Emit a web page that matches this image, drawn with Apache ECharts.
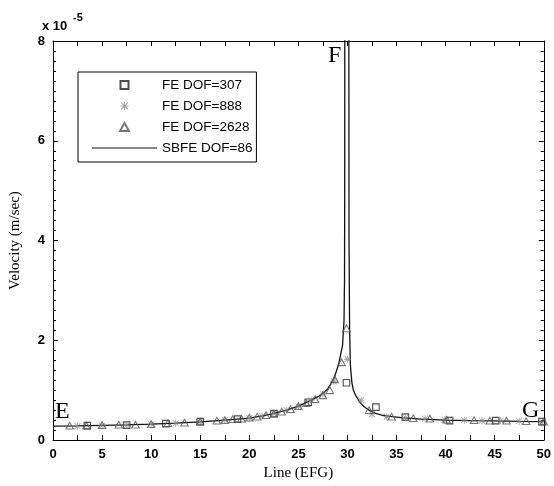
<!DOCTYPE html>
<html>
<head>
  <meta charset="utf-8">
  <script src="https://cdn.jsdelivr.net/npm/echarts@6/dist/echarts.min.js"></script>
</head>
<body style="margin: 0">
  <div id="container" style="width: 554px; height: 486px;"></div>
  <script>
    // velocity values in units of 1e-5 m/sec
    const sbfeX = [0, 2.5, 5, 7.5, 10, 12.5, 15, 17.5, 20, 21.5, 22.6, 23.8, 25, 26, 27, 27.6, 28, 28.6, 29.1, 29.5, 29.65, 29.7, 29.72, 29.73,
      30.14, 30.16, 30.22, 30.3, 30.45, 30.6, 30.9, 31.3, 31.7, 32.2, 32.8, 33.5, 34.5, 35.5, 37.5, 40, 42.5, 45, 47.5, 50];
    const sbfeY = [0.28, 0.285, 0.295, 0.305, 0.32, 0.34, 0.365, 0.4, 0.44, 0.49, 0.54, 0.6, 0.68, 0.77, 0.87, 0.95, 1.03, 1.22, 1.52, 1.9, 2.4, 3.2, 5.0, 8.5,
      8.5, 4.0, 2.2, 1.5, 1.15, 1.0, 0.87, 0.75, 0.67, 0.6, 0.54, 0.5, 0.47, 0.45, 0.42, 0.4, 0.39, 0.385, 0.375, 0.37];

    const fe307X = [3.5, 7.5, 11.5, 15.0, 18.8, 22.5, 26.0, 29.9, 32.9, 35.9, 40.4, 45.1, 49.8];
    const fe307Y = [0.29, 0.3, 0.33, 0.37, 0.42, 0.53, 0.76, 1.15, 0.66, 0.46, 0.39, 0.39, 0.37];

    const fe888X = [2.5, 5.0, 7.5, 10.0, 12.5, 15.0, 17.5, 20.0, 21.3, 22.5, 23.8, 25.0, 26.3, 27.5, 28.6, 30.0,
      31.4, 32.5, 34.0, 35.9, 37.9, 39.9, 41.9, 43.7, 45.6, 47.5, 49.7];
    const fe888Y = [0.28, 0.29, 0.3, 0.32, 0.34, 0.36, 0.4, 0.44, 0.48, 0.53, 0.6, 0.68, 0.8, 0.92, 1.18, 1.62,
      0.8, 0.52, 0.47, 0.45, 0.43, 0.41, 0.4, 0.39, 0.39, 0.38, 0.37];

    const fe2628X = [1.7, 3.4, 5.0, 6.7, 8.4, 10.0, 11.7, 13.4, 15.0, 16.7, 17.5, 18.3, 19.2, 20.0, 20.8, 21.7, 22.5,
      23.3, 24.2, 25.0, 25.8, 26.7, 27.5, 28.2, 28.7, 29.4, 29.9,
      32.2, 34.5, 36.7, 38.4, 40.1, 42.9, 44.5, 46.2, 48.2, 50.0];
    const fe2628Y = [0.29, 0.29, 0.3, 0.31, 0.31, 0.32, 0.34, 0.35, 0.37, 0.39, 0.4, 0.42, 0.43, 0.45, 0.47, 0.5, 0.53,
      0.57, 0.62, 0.68, 0.74, 0.82, 0.9, 1.0, 1.22, 1.56, 2.24,
      0.6, 0.47, 0.44, 0.43, 0.41, 0.4, 0.39, 0.39, 0.38, 0.37];

    const seriesNames = ['FE DOF=307', 'FE DOF=888', 'FE DOF=2628', 'SBFE DOF=86'];

    const zip = (xs, ys) => xs.map((x, i) => [x, ys[i]]);

    // path symbols so the legend keeps their aspect
    const squarePath = 'path://M0,0 L10,0 L10,10 L0,10 Z';
    const trianglePath = 'path://M5,0 L10,9 L0,9 Z';
    const starPath = 'path://M4.4,0 L5.6,0 L5.6,10 L4.4,10 Z M0,4.4 L10,4.4 L10,5.6 L0,5.6 Z ' +
      'M1.2,0.4 L9.6,8.8 L8.8,9.6 L0.4,1.2 Z M8.8,0.4 L9.6,1.2 L1.2,9.6 L0.4,8.8 Z';
    // plain line for the legend, empty moves keep its height
    const lineIcon = 'path://M0,0 L0,0 M0,8 L0,8 M0,3.4 L65,3.4 L65,4.6 L0,4.6 Z';

    var myChart = echarts.init(document.getElementById('container'), null, { renderer: 'canvas' });

    const tickFont = { color: '#000', fontSize: 13, fontWeight: 'bold', fontFamily: 'Liberation Sans' };
    const axisLine = { show: true, onZero: false, lineStyle: { color: '#000', width: 1 } };

    var option = {
      backgroundColor: '#fff',
      animation: false,
      grid: { left: 48, right: 7, top: 41, bottom: 41 },
      legend: {
        data: [seriesNames[0], seriesNames[1], seriesNames[2], { name: seriesNames[3], icon: lineIcon }],
        orient: 'vertical',
        left: 78,
        top: 72,
        itemWidth: 65,
        itemHeight: 8,
        itemGap: 5,
        symbolKeepAspect: true,
        padding: [5, 4, 6, 14],
        borderColor: '#000',
        borderWidth: 1,
        textStyle: { color: '#000', fontSize: 13.5, fontFamily: 'Liberation Sans', lineHeight: 16 }
      },
      xAxis: [{
        type: 'value', min: 0, max: 50, interval: 5, position: 'bottom',
        axisLine: axisLine,
        axisTick: { inside: true, length: 5, lineStyle: { color: '#000' } },
        minorTick: { show: true, splitNumber: 2, length: 5, lineStyle: { color: '#000' } },
        axisLabel: Object.assign({ margin: 8 }, tickFont),
        splitLine: { show: false },
        name: 'Line (EFG)', nameLocation: 'middle', nameGap: 24,
        nameTextStyle: { color: '#000', fontSize: 15, fontFamily: 'Liberation Serif' }
      }, {
        type: 'value', min: 0, max: 50, interval: 5, position: 'top',
        axisLine: axisLine,
        axisTick: { inside: true, length: 5, lineStyle: { color: '#000' } },
        minorTick: { show: true, splitNumber: 2, length: 5, lineStyle: { color: '#000' } },
        axisLabel: { show: false },
        splitLine: { show: false }
      }],
      yAxis: [{
        type: 'value', min: 0, max: 8, interval: 2, position: 'left',
        axisLine: axisLine,
        axisTick: { inside: true, length: 5, lineStyle: { color: '#000' } },
        minorTick: { show: true, splitNumber: 10, length: 3, lineStyle: { color: '#000' } },
        axisLabel: Object.assign({ margin: 8 }, tickFont),
        splitLine: { show: false },
        name: 'Velocity (m/sec)', nameLocation: 'middle', nameGap: 30,
        nameTextStyle: { color: '#000', fontSize: 15, fontFamily: 'Liberation Serif' }
      }, {
        type: 'value', min: 0, max: 8, interval: 2, position: 'right',
        axisLine: axisLine,
        axisTick: { inside: true, length: 5, lineStyle: { color: '#000' } },
        minorTick: { show: true, splitNumber: 10, length: 3, lineStyle: { color: '#000' } },
        axisLabel: { show: false },
        splitLine: { show: false }
      }],
      series: [{
        name: seriesNames[0], type: 'scatter', z: 3,
        symbol: squarePath, symbolSize: 6.5, symbolKeepAspect: true,
        itemStyle: { color: 'rgba(255,255,255,0)', borderColor: '#222', borderWidth: 1.1 },
        data: zip(fe307X, fe307Y)
      }, {
        name: seriesNames[1], type: 'scatter', z: 3,
        symbol: starPath, symbolSize: 7, symbolKeepAspect: true,
        itemStyle: { color: '#8a8a8a' },
        data: zip(fe888X, fe888Y)
      }, {
        name: seriesNames[2], type: 'scatter', z: 3,
        symbol: trianglePath, symbolSize: 7.5, symbolKeepAspect: true,
        itemStyle: { color: 'rgba(255,255,255,0)', borderColor: '#555', borderWidth: 1.1 },
        data: zip(fe2628X, fe2628Y)
      }, {
        name: seriesNames[3], type: 'line', z: 2,
        symbol: 'none', smooth: false,
        lineStyle: { color: '#111', width: 1.3 },
        itemStyle: { color: '#111' },
        data: zip(sbfeX, sbfeY)
      }],
      graphic: [
        { type: 'text', left: 42, top: 20, style: { text: 'x 10', fill: '#000', font: 'bold 13px "Liberation Sans"' } },
        { type: 'text', left: 73, top: 12, style: { text: '-5', fill: '#000', font: 'bold 11px "Liberation Sans"' } },
        { type: 'text', left: 55, top: 400, style: { text: 'E', fill: '#000', font: '24px "Liberation Serif"' } },
        { type: 'text', left: 328, top: 44, style: { text: 'F', fill: '#000', font: '24px "Liberation Serif"' } },
        { type: 'text', left: 522, top: 399, style: { text: 'G', fill: '#000', font: '24px "Liberation Serif"' } }
      ]
    };

    myChart.setOption(option);
  </script>
</body>
</html>
